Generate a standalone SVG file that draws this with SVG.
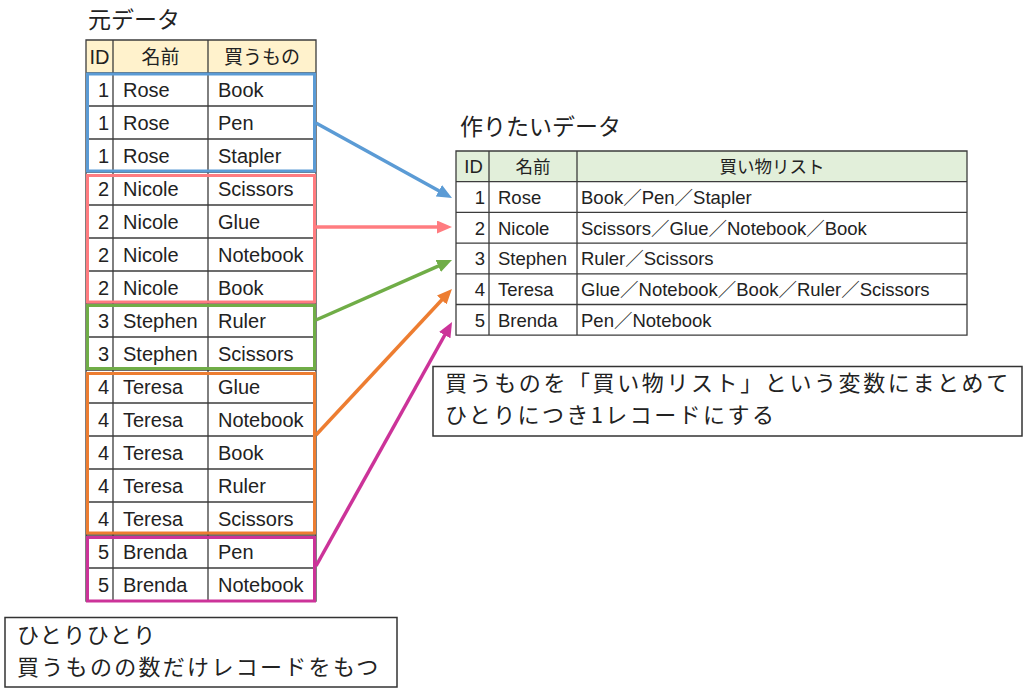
<svg xmlns="http://www.w3.org/2000/svg" width="1024" height="697" viewBox="0 0 1024 697">
<style>
.t{font-family:"Liberation Sans","Noto Sans CJK JP",sans-serif;fill:#222;}
.j{font-family:"Noto Sans CJK JP",sans-serif;fill:#222;}
.l{font-size:20px;}
.r{font-size:18.5px;}
.e{text-anchor:end;}
.m{text-anchor:middle;}
.g{stroke:#3c3c3c;stroke-width:1.3;fill:none;}
.box{fill:none;stroke-width:3;}
.con{fill:none;stroke-width:3.5;}
.note{fill:#fff;stroke:#333;stroke-width:1.5;}
</style>
<defs>
<marker id="aB" markerUnits="userSpaceOnUse" markerWidth="16" markerHeight="14" refX="3" refY="6.5" orient="auto"><path d="M0,0 L15,6.5 L0,13 z" fill="#5B9BD5"/></marker>
<marker id="aP" markerUnits="userSpaceOnUse" markerWidth="16" markerHeight="14" refX="3" refY="6.5" orient="auto"><path d="M0,0 L15,6.5 L0,13 z" fill="#FF7C80"/></marker>
<marker id="aG" markerUnits="userSpaceOnUse" markerWidth="16" markerHeight="14" refX="3" refY="6.5" orient="auto"><path d="M0,0 L15,6.5 L0,13 z" fill="#70AD47"/></marker>
<marker id="aO" markerUnits="userSpaceOnUse" markerWidth="16" markerHeight="14" refX="3" refY="6.5" orient="auto"><path d="M0,0 L15,6.5 L0,13 z" fill="#ED7D31"/></marker>
<marker id="aM" markerUnits="userSpaceOnUse" markerWidth="16" markerHeight="14" refX="3" refY="6.5" orient="auto"><path d="M0,0 L15,6.5 L0,13 z" fill="#CC3399"/></marker>
</defs>
<rect width="1024" height="697" fill="#fff"/>

<g id="title-src"><text class="j" x="88" y="28" font-size="23">元データ</text></g>

<g id="src-table">
<rect x="86" y="40" width="230" height="33" fill="#FFF2CC"/>
<path class="g" d="M86,40 H316 V601 H86 Z M113,40 V601 M208,40 V601 M86,73 H316 M86,106 H316 M86,139 H316 M86,172 H316 M86,205 H316 M86,238 H316 M86,271 H316 M86,304 H316 M86,337 H316 M86,370 H316 M86,403 H316 M86,436 H316 M86,469 H316 M86,502 H316 M86,535 H316 M86,568 H316"/>
<text class="t m" x="99.5" y="64" font-size="20">ID</text>
<text class="j m" x="160.5" y="64" font-size="19">名前</text>
<text class="j m" x="262" y="64" font-size="19">買うもの</text>
</g>

<g id="group-1">
<rect class="box" x="87.5" y="74" width="227" height="97" stroke="#5B9BD5"/>
<g class="t l">
<text class="e" x="109" y="97">1</text><text x="123" y="97">Rose</text><text x="218" y="97">Book</text>
<text class="e" x="109" y="130">1</text><text x="123" y="130">Rose</text><text x="218" y="130">Pen</text>
<text class="e" x="109" y="163">1</text><text x="123" y="163">Rose</text><text x="218" y="163">Stapler</text>
</g>
</g>

<g id="group-2">
<rect class="box" x="87.5" y="175.5" width="227" height="126.5" stroke="#FF7C80"/>
<g class="t l">
<text class="e" x="109" y="196">2</text><text x="123" y="196">Nicole</text><text x="218" y="196">Scissors</text>
<text class="e" x="109" y="229">2</text><text x="123" y="229">Nicole</text><text x="218" y="229">Glue</text>
<text class="e" x="109" y="262">2</text><text x="123" y="262">Nicole</text><text x="218" y="262">Notebook</text>
<text class="e" x="109" y="295">2</text><text x="123" y="295">Nicole</text><text x="218" y="295">Book</text>
</g>
</g>

<g id="group-3">
<rect class="box" x="87.5" y="305.5" width="227" height="63" stroke="#70AD47"/>
<g class="t l">
<text class="e" x="109" y="328">3</text><text x="123" y="328">Stephen</text><text x="218" y="328">Ruler</text>
<text class="e" x="109" y="361">3</text><text x="123" y="361">Stephen</text><text x="218" y="361">Scissors</text>
</g>
</g>

<g id="group-4">
<rect class="box" x="87.5" y="373.5" width="227" height="159.5" stroke="#ED7D31"/>
<g class="t l">
<text class="e" x="109" y="394">4</text><text x="123" y="394">Teresa</text><text x="218" y="394">Glue</text>
<text class="e" x="109" y="427">4</text><text x="123" y="427">Teresa</text><text x="218" y="427">Notebook</text>
<text class="e" x="109" y="460">4</text><text x="123" y="460">Teresa</text><text x="218" y="460">Book</text>
<text class="e" x="109" y="493">4</text><text x="123" y="493">Teresa</text><text x="218" y="493">Ruler</text>
<text class="e" x="109" y="526">4</text><text x="123" y="526">Teresa</text><text x="218" y="526">Scissors</text>
</g>
</g>

<g id="group-5">
<rect class="box" x="87.5" y="537.5" width="227" height="63.5" stroke="#CC3399"/>
<g class="t l">
<text class="e" x="109" y="559">5</text><text x="123" y="559">Brenda</text><text x="218" y="559">Pen</text>
<text class="e" x="109" y="592">5</text><text x="123" y="592">Brenda</text><text x="218" y="592">Notebook</text>
</g>
</g>

<g id="title-dst"><text class="j" x="460" y="135" font-size="23">作りたいデータ</text></g>

<g id="dst-table">
<rect x="456" y="151" width="511" height="30.7" fill="#E2EFDA"/>
<path class="g" d="M456,151 H967 V335.2 H456 Z M489,151 V335.2 M577,151 V335.2 M456,181.7 H967 M456,212.4 H967 M456,243.1 H967 M456,273.8 H967 M456,304.5 H967"/>
<text class="t m" x="473.5" y="173" font-size="18.5">ID</text>
<text class="j m" x="533" y="172.5" font-size="17.5">名前</text>
<text class="j m" x="772" y="172.5" font-size="17.5">買い物リスト</text>
<g class="t r">
<text class="e" x="485" y="204">1</text><text x="498" y="204">Rose</text><text x="581" y="204">Book／Pen／Stapler</text>
<text class="e" x="485" y="234.7">2</text><text x="498" y="234.7">Nicole</text><text x="581" y="234.7">Scissors／Glue／Notebook／Book</text>
<text class="e" x="485" y="265.4">3</text><text x="498" y="265.4">Stephen</text><text x="581" y="265.4">Ruler／Scissors</text>
<text class="e" x="485" y="296.1">4</text><text x="498" y="296.1">Teresa</text><text x="581" y="296.1">Glue／Notebook／Book／Ruler／Scissors</text>
<text class="e" x="485" y="326.8">5</text><text x="498" y="326.8">Brenda</text><text x="581" y="326.8">Pen／Notebook</text>
</g>
</g>

<g id="connectors">
<line class="con" x1="316" y1="123" x2="441.5" y2="192.2" stroke="#5B9BD5" marker-end="url(#aB)"/>
<line class="con" x1="316" y1="227" x2="440" y2="227" stroke="#FF7C80" marker-end="url(#aP)"/>
<line class="con" x1="316" y1="320" x2="441" y2="264.8" stroke="#70AD47" marker-end="url(#aG)"/>
<line class="con" x1="316" y1="435" x2="443.8" y2="297.8" stroke="#ED7D31" marker-end="url(#aO)"/>
<line class="con" x1="316" y1="566" x2="446.2" y2="332.5" stroke="#CC3399" marker-end="url(#aM)"/>
</g>

<g id="note-right">
<rect class="note" x="433" y="366.5" width="589" height="69.5"/>
<text class="j" x="445" y="391" font-size="22" letter-spacing="2.6">買うものを「買い物リスト」という変数にまとめて</text>
<text class="j" x="445" y="423" font-size="22" letter-spacing="2.4">ひとりにつき1レコードにする</text>
</g>

<g id="note-left">
<rect class="note" x="5" y="617.5" width="392" height="69.5"/>
<text class="j" x="17" y="643" font-size="22" letter-spacing="1.5">ひとりひとり</text>
<text class="j" x="17" y="675" font-size="22" letter-spacing="2.3">買うものの数だけレコードをもつ</text>
</g>
</svg>
